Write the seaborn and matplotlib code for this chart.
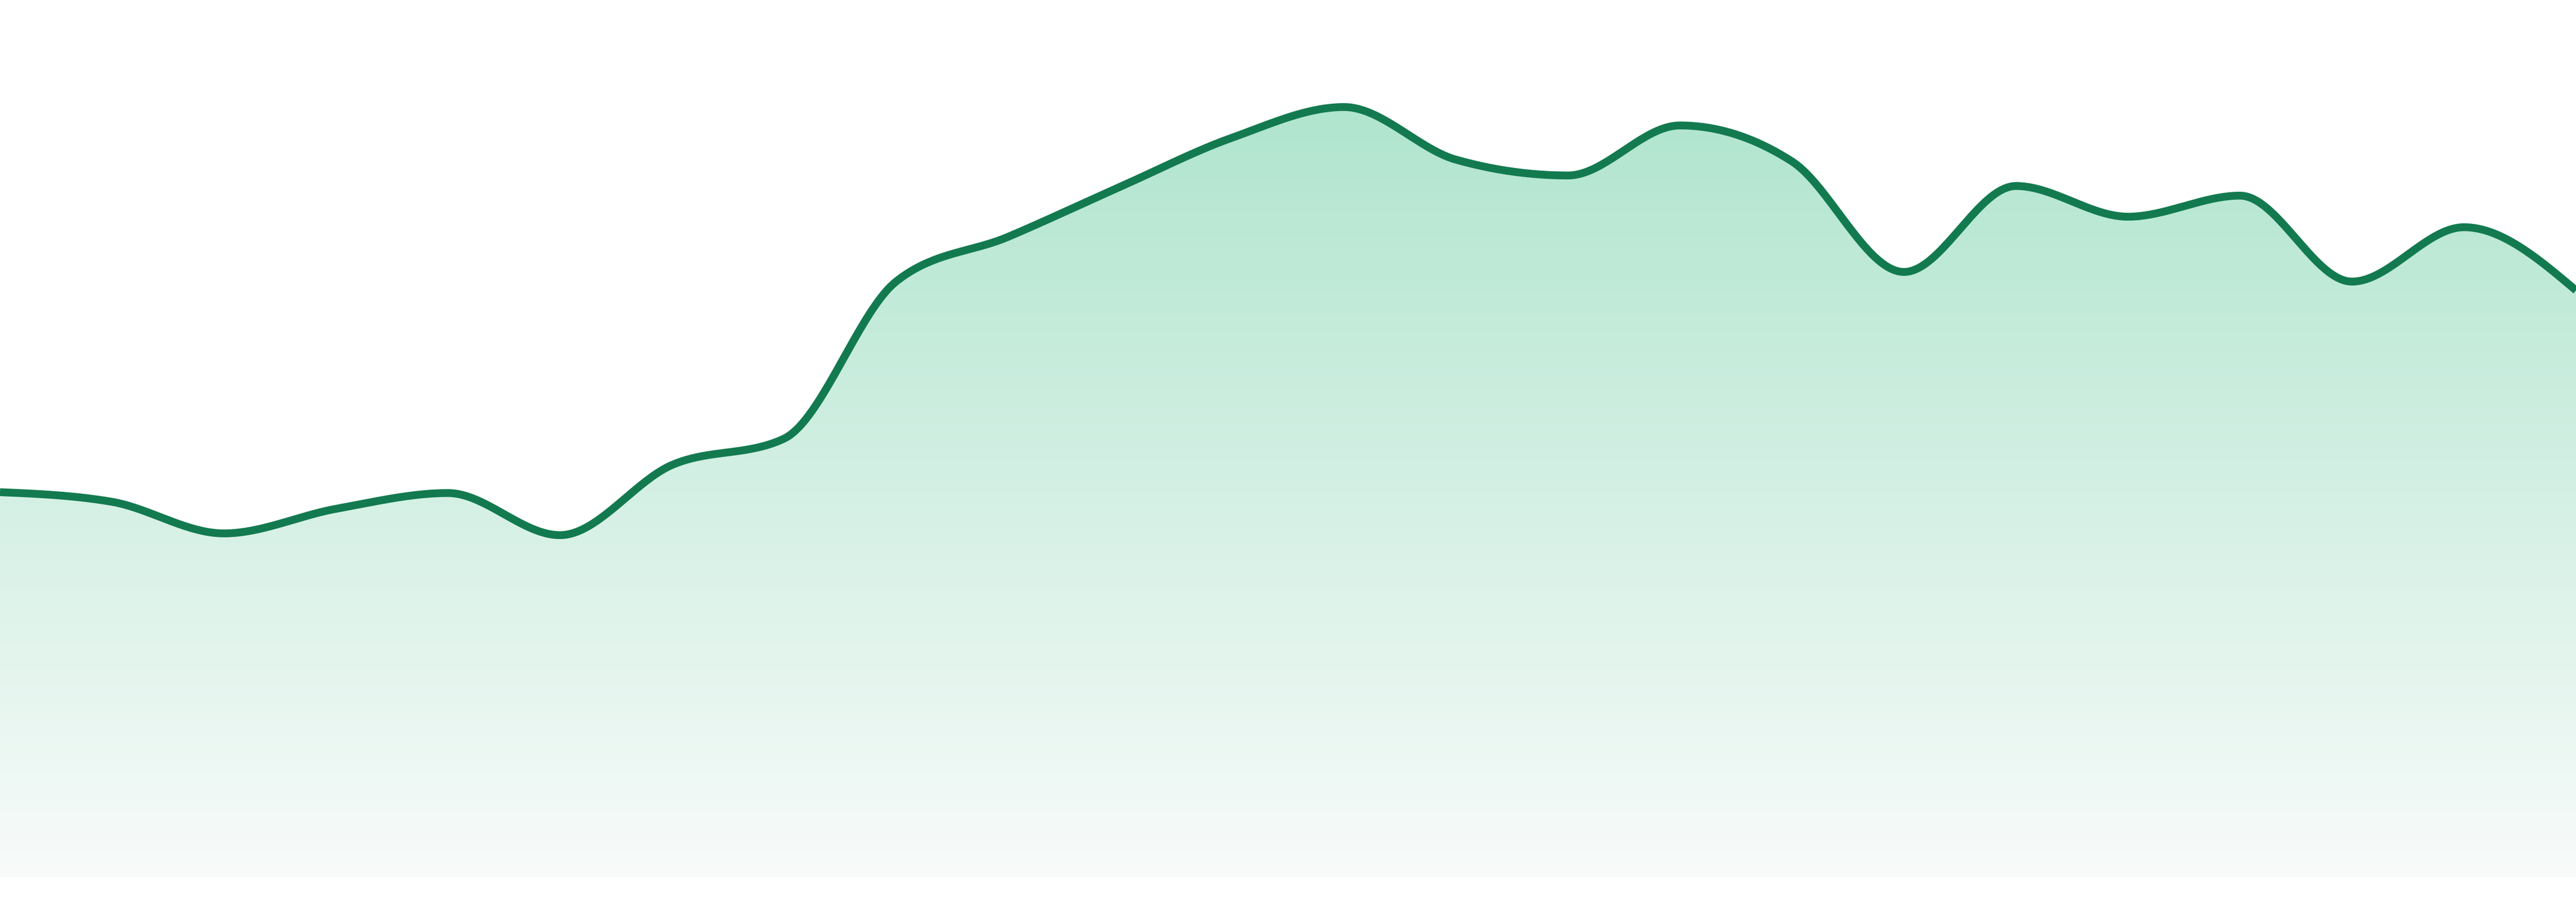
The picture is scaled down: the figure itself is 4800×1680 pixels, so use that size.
#################################################################

# loading python libraries

#################################################################

import numpy as np
import pandas as pd
import matplotlib
matplotlib.use("Agg")
import matplotlib.pyplot as plt
import seaborn as sns


###############################################################

# chart data (24 points)

###############################################################

steps = list(range(24))

values = [43.9, 42.8, 39.2, 42.0, 43.8, 39.0, 47.0, 50.0,
          67.9, 73.0, 78.7, 84.3, 87.8, 81.8, 80.0, 85.7,
          81.6, 69.0, 78.8, 75.3, 77.7, 67.9, 74.1, 66.9]


###############################################################

# monotone curve (like d3 curveMonotoneX) for drawing the line

###############################################################

def monotone_curve(x, y, n=40):
    x = np.asarray(x, dtype=float)
    y = np.asarray(y, dtype=float)
    h = np.diff(x)
    s = np.diff(y) / h
    m = np.zeros_like(y)
    for k in range(1, len(y) - 1):
        p = (s[k - 1] * h[k] + s[k] * h[k - 1]) / (h[k - 1] + h[k])
        m[k] = (np.sign(s[k - 1]) + np.sign(s[k])) * min(abs(s[k - 1]), abs(s[k]), 0.5 * abs(p))
    m[0] = (3 * s[0] - m[1]) / 2
    m[-1] = (3 * s[-1] - m[-2]) / 2
    xs, ys = [], []
    for k in range(len(y) - 1):
        t = np.linspace(0, 1, n, endpoint=False)
        h00 = 2 * t**3 - 3 * t**2 + 1
        h10 = t**3 - 2 * t**2 + t
        h01 = -2 * t**3 + 3 * t**2
        h11 = t**3 - t**2
        xs.append(x[k] + t * h[k])
        ys.append(h00 * y[k] + h10 * h[k] * m[k] + h01 * y[k + 1] + h11 * h[k] * m[k + 1])
    xs.append([x[-1]])
    ys.append([y[-1]])
    return np.concatenate(xs), np.concatenate(ys)


xs, ys = monotone_curve(steps, values)
df = pd.DataFrame({"step": xs, "value": ys})


###############################################################

# plot

###############################################################

sns.set_style("white")

fig = plt.figure(figsize=(48, 16.8), dpi=100)
ax = fig.add_axes([0, 0, 1, 1])

# gradient fill under the curve
top = df["value"].max()
c_top = np.array([176, 229, 206]) / 255
c_bot = np.array([248, 251, 250]) / 255
frac = np.linspace(0, 1, 256)[:, None]
grad = (c_top * (1 - frac) + c_bot * frac)[:, None, :]
img = ax.imshow(grad, extent=[0, 23, 0, top], origin="upper", aspect="auto", zorder=1)
poly = ax.fill_between(df["step"], df["value"], 0, color="none", lw=0)
img.set_clip_path(poly.get_paths()[0], transform=ax.transData)

sns.lineplot(data=df, x="step", y="value", ax=ax, color="#137a50", lw=10.5,
             solid_capstyle="butt", zorder=3)

ax.set_xlim(0, 23)
ax.set_ylim(-2.815, 100)
ax.set_axis_off()

plt.savefig("out.png", dpi=100)
plt.close()
